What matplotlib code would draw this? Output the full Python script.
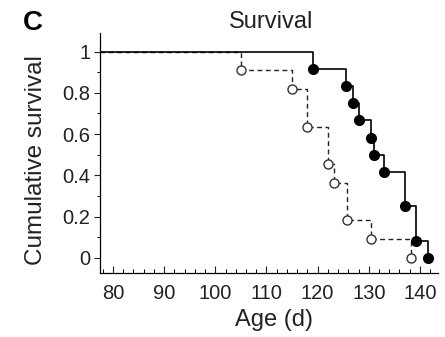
import numpy as np
import matplotlib
matplotlib.use("Agg")
import matplotlib.pyplot as plt
from matplotlib.ticker import MultipleLocator

plt.rcParams['font.family'] = ['Liberation Sans', 'DejaVu Sans']

# filled circles, solid line
solid_times = [119, 125.5, 127, 128, 130.5, 131, 133, 137, 139.3, 141.6]
solid_surv = [0.917, 0.833, 0.75, 0.667, 0.583, 0.5, 0.417, 0.25, 0.083, 0.0]
# open circles, dashed line
open_times = [105, 115, 118, 122, 123.2, 125.8, 130.4, 138.3]
open_surv = [0.909, 0.818, 0.636, 0.455, 0.364, 0.182, 0.091, 0.0]

xticks = [80, 90, 100, 110, 120, 130, 140]
yticks = [0, 0.2, 0.4, 0.6, 0.8, 1]
yticklabels = ['0', '0.2', '0.4', '0.6', '0.8', '1']

x0, x1 = 77.5, 143.5
txt = '#222222'

fig = plt.figure(figsize=(4.45, 3.37), dpi=100)
ax = fig.add_axes([0.225, 0.19, 0.759, 0.712])

# step curves start at 1 from the left edge
ax.step([x0] + open_times, [1] + open_surv, where='post', color='#222222',
        lw=1.0, ls=(0, (3.5, 2.5)))
ax.step([x0] + solid_times, [1] + solid_surv, where='post', color='black', lw=1.2)

ax.plot(open_times, open_surv, 'o', ms=6.5, mfc='white', mec='#333333', mew=1.0)
ax.plot(solid_times, solid_surv, 'o', ms=7, mfc='black', mec='black')

ax.set_xlim(x0, x1)
ax.set_ylim(-0.073, 1.09)

for s in ['top', 'right']:
    ax.spines[s].set_visible(False)
for s in ['left', 'bottom']:
    ax.spines[s].set_linewidth(0.9)

ax.set_xticks(xticks)
ax.xaxis.set_minor_locator(MultipleLocator(2))
ax.set_yticks(yticks)
ax.set_yticklabels(yticklabels)
ax.yaxis.set_minor_locator(MultipleLocator(0.1))

ax.tick_params(axis='x', which='major', direction='in', length=5, width=0.8,
               labelsize=14.5, pad=8, colors=txt)
ax.tick_params(axis='x', which='minor', direction='in', length=3, width=0.7)
ax.tick_params(axis='y', which='major', direction='out', length=4, width=0.8,
               labelsize=14.5, pad=3, colors=txt)
ax.tick_params(axis='y', which='minor', direction='out', length=2, width=0.7)

fig.text(271 / 445, 1 - 22 / 337, 'Survival', ha='center', va='center',
         fontsize=17, color=txt)
fig.text(33 / 445, 1 - 23 / 337, 'C', ha='center', va='center',
         fontsize=20, fontweight='bold', color='black')
fig.text(36 / 445, 1 - 160 / 337, 'Cumulative survival', ha='center', va='center',
         rotation=90, fontsize=17.5, color=txt)
fig.text(274 / 445, 1 - 320 / 337, 'Age (d)', ha='center', va='center',
         fontsize=17, color=txt)

fig.savefig('out.png', dpi=100)
